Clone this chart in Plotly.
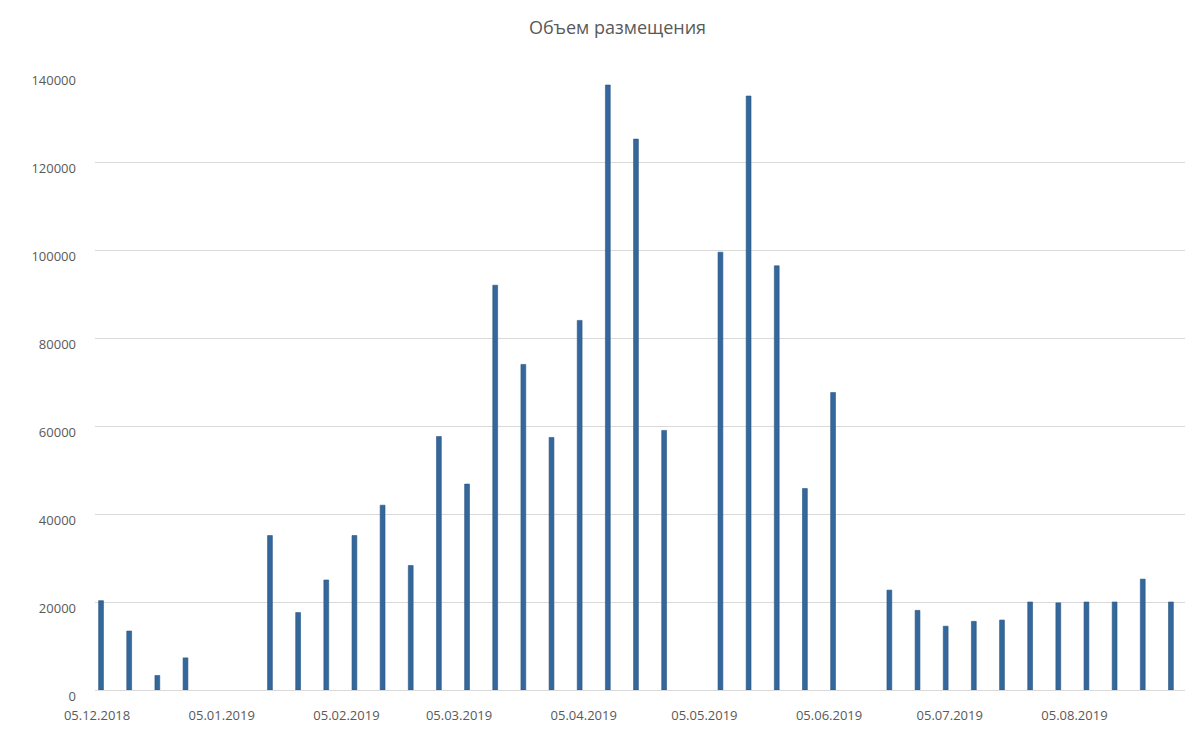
import plotly.graph_objects as go

dates = [
    "2018-12-05", "2018-12-12", "2018-12-19", "2018-12-26", "2019-01-02", "2019-01-09",
    "2019-01-16", "2019-01-23", "2019-01-30", "2019-02-06", "2019-02-13", "2019-02-20",
    "2019-02-27", "2019-03-06", "2019-03-13", "2019-03-20", "2019-03-27", "2019-04-03",
    "2019-04-10", "2019-04-17", "2019-04-24", "2019-05-01", "2019-05-08", "2019-05-15",
    "2019-05-22", "2019-05-29", "2019-06-05", "2019-06-12", "2019-06-19", "2019-06-26",
    "2019-07-03", "2019-07-10", "2019-07-17", "2019-07-24", "2019-07-31", "2019-08-07",
    "2019-08-14", "2019-08-21", "2019-08-28",
]
values = [
    20300, 13400, 3300, 7300, None, None,
    35100, 17600, 25000, 35100, 42000, 28300,
    57600, 46800, 92000, 74000, 57400, 84000,
    137500, 125200, 59000, None, 99500, 135000,
    96400, 45800, 67600, None, 22700, 18100,
    14500, 15600, 15900, 20000, 19800, 20000,
    20000, 25200, 20000,
]
tick_dates = ["2018-12-05", "2019-01-05", "2019-02-05", "2019-03-05", "2019-04-05",
              "2019-05-05", "2019-06-05", "2019-07-05", "2019-08-05"]
tick_labels = ["05.12.2018", "05.01.2019", "05.02.2019", "05.03.2019", "05.04.2019",
               "05.05.2019", "05.06.2019", "05.07.2019", "05.08.2019"]
y_ticks = [0, 20000, 40000, 60000, 80000, 100000, 120000, 140000]
y_labels = ["0", "20000", "40000", "60000", "80000", "100000", "120000", "140000"]
title_text = "Объем размещения"

fig = go.Figure()
fig.add_trace(go.Bar(
    x=dates, y=values,
    width=1.2 * 86400000,
    marker=dict(color="#34679b", line=dict(color="#2a5583", width=0.6)),
))

fig.update_layout(
    width=1199, height=738,
    margin=dict(l=95, r=14, t=74, b=48),
    paper_bgcolor="white", plot_bgcolor="white",
    showlegend=False,
    font=dict(family="Open Sans, Noto Sans, sans-serif", color="#595959", size=12),
    title=dict(text=title_text, x=0.515, xanchor="center", y=(738 - 28) / 738,
               yanchor="middle", font=dict(size=18, color="#595959")),
    xaxis=dict(
        type="date",
        range=["2018-12-03 12:00", "2019-08-31 12:00"],
        tickvals=tick_dates, ticktext=tick_labels,
        showgrid=False, zeroline=False, showline=False,
        ticks="", ticklabelstandoff=16, ticklabelshift=-4,
        tickfont=dict(size=13, color="#595959"),
    ),
    yaxis=dict(
        range=[0, 140000],
        tickvals=y_ticks, ticktext=y_labels,
        showgrid=True, gridcolor="#d9d9d9", gridwidth=1,
        zeroline=True, zerolinecolor="#d9d9d9", zerolinewidth=1,
        showline=False, ticks="", ticklabelstandoff=18, ticklabelshift=6,
        tickfont=dict(size=13, color="#595959"),
    ),
)

fig.write_html("out.html")
